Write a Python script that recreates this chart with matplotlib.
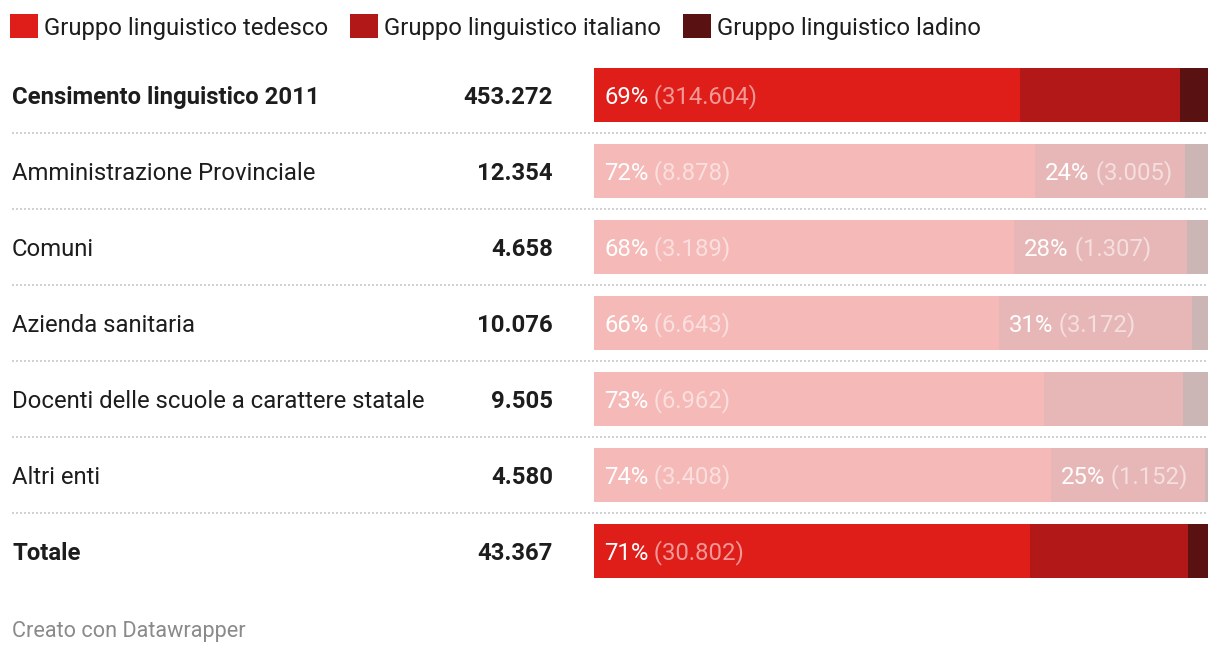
import matplotlib
matplotlib.use("Agg")
import matplotlib.pyplot as plt
from matplotlib.patches import Patch
import matplotlib.transforms as mtransforms
import numpy as np

plt.rcParams['font.family'] = ['Roboto', 'DejaVu Sans']

# data
rows = ['Censimento linguistico 2011', 'Amministrazione Provinciale', 'Comuni',
        'Azienda sanitaria', 'Docenti delle scuole a carattere statale',
        'Altri enti', 'Totale']
totals = [453272, 12354, 4658, 10076, 9505, 4580, 43367]
tedesco = [314604, 8878, 3189, 6643, 6962, 3408, 30802]
italiano = [118120, 3005, 1307, 3172, 2150, 1152, 11152]
ladino = [20548, 471, 162, 261, 393, 20, 1413]
highlight = [True, False, False, False, False, False, True]
show_it_label = [False, True, True, True, False, True, False]

groups = ['Gruppo linguistico tedesco', 'Gruppo linguistico italiano', 'Gruppo linguistico ladino']
colors = ['#e01e19', '#b21818', '#5a1111']

FS = 17.2


def fmt(v):
    return f"{v:,}".replace(',', '.')


fig = plt.figure(figsize=(12.2, 6.56), dpi=100)
ax = fig.add_axes([594 / 1220, 1 - 589 / 656, 614 / 1220, 532 / 656])

y = np.arange(len(rows))
series = [tedesco, italiano, ladino]
left = np.zeros(len(rows))
for s, vals in enumerate(series):
    share = np.array(vals) / np.array(totals)
    for i in range(len(rows)):
        ax.barh(y[i], share[i], left=left[i], height=0.71, color=colors[s],
                alpha=1.0 if highlight[i] else 0.31, linewidth=0)
    # labels inside the bars
    for i in range(len(rows)):
        if s == 0 or (s == 1 and show_it_label[i]):
            pct = round(share[i] * 100)
            t = ax.text(left[i] + 10 / 614, y[i] + 0.03, f"{pct}%", color='white',
                        fontsize=FS, va='center', ha='left')
            ax.annotate(f" ({fmt(vals[i])})", xy=(1, 0), xycoords=t,
                        va='bottom', ha='left', fontsize=FS,
                        color='white', alpha=0.55)
    left += share

ax.set_xlim(0, 1)
ax.set_ylim(len(rows) - 0.5, -0.5)
ax.axis('off')

trans = mtransforms.blended_transform_factory(ax.transAxes, ax.transData)
for i, name in enumerate(rows):
    w = 'bold' if highlight[i] else 'normal'
    ax.text(-582 / 614, y[i] + 0.03, name, transform=trans, fontsize=FS,
            fontweight=w, color='#1d1d1d', va='center', ha='left')
    ax.text(-41 / 614, y[i] + 0.03, fmt(totals[i]), transform=trans, fontsize=FS,
            fontweight='bold', color='#1d1d1d', va='center', ha='right')
    if i < len(rows) - 1:
        ax.plot([-582 / 614, 1], [y[i] + 0.5, y[i] + 0.5], transform=trans,
                color='#c8c8c8', linewidth=1.2, linestyle=(0, (1.2, 1.2)),
                clip_on=False)

handles = [Patch(facecolor=c, edgecolor='none') for c in colors]
fig.legend(handles, groups, loc='center left', bbox_to_anchor=(10 / 1220, 1 - 27 / 656),
           ncol=3, frameon=False, fontsize=FS, handlelength=1.17, handleheight=1.17,
           handletextpad=0.25, columnspacing=0.92, labelcolor='#1d1d1d',
           borderpad=0, borderaxespad=0)

fig.text(12 / 1220, 1 - 632 / 656, 'Creato con Datawrapper', fontsize=15.6,
         color='#8a8a8a', va='center', ha='left')

fig.savefig('out.png', dpi=100)
